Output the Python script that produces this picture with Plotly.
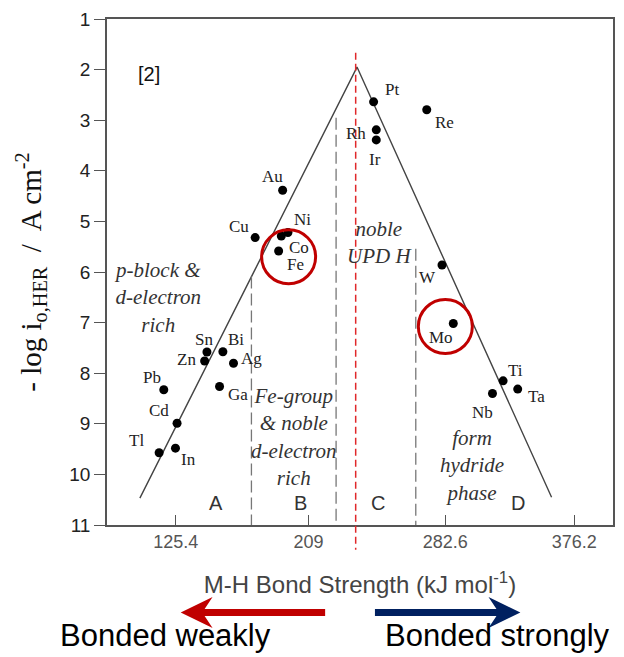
import plotly.graph_objects as go

# ---------------- data ----------------
elements = ["Au", "Cu", "Ni", "Co", "Fe", "Pt", "Re", "Rh", "Ir", "W", "Mo", "Ti",
            "Ta", "Nb", "Sn", "Zn", "Bi", "Ag", "Ga", "Pb", "Cd", "Tl", "In"]
# x position on the (scanned) M-H bond strength axis, in tick-spacing units
bond_pos = [0.805, 0.598, 0.845, 0.795, 0.775, 1.49, 1.89, 1.51, 1.51, 2.005, 2.09,
            2.465, 2.575, 2.385, 0.235, 0.2175, 0.355, 0.435, 0.33, -0.09, 0.01, -0.125, -0.002]
log_i0 = [4.385, 5.32, 5.22, 5.29, 5.584, 2.637, 2.794, 3.19, 3.39, 5.862, 7.018,
          8.151, 8.314, 8.401, 7.582, 7.758, 7.576, 7.803, 8.263, 8.328, 8.99, 9.572, 9.481]

x_tick_pos = [0, 1, 2.03, 3]
x_tick_text = ["125.4", "209", "282.6", "376.2"]
y_ticks = list(range(1, 12))

# volcano lines
volcano_x = [-0.27, 1.365, 2.83]
volcano_y = [10.47, 1.95, 10.45]

# region separators (dashed) : x and top y
sep_x = [0.57, 1.2075, 1.8075]
sep_top = [6.09, 2.95, 5.54]
red_line_x = 1.355

region_letters = ["A", "B", "C", "D"]
region_letter_x = [0.305, 0.943, 1.5225, 2.58]
region_letter_y = 10.57

region_notes = ["p-block &amp;<br>d-electron<br>rich",
                "Fe-group<br>&amp; noble<br>d-electron<br>rich",
                "noble<br>UPD H",
                "form<br>hydride<br>phase"]
region_note_x = [-0.135, 0.8925, 1.5375, 2.2275]
region_note_y = [6.50, 9.27, 5.41, 9.83]

highlight_x = [0.85, 2.03]
highlight_y = [5.70, 7.077]

# label offsets (pixels) relative to each point
label_offsets = {
    "Au": (-10, 14), "Cu": (-16, 11), "Ni": (15, 13), "Co": (18, -11), "Fe": (17, -14),
    "Pt": (18, 12), "Re": (18, -13), "Rh": (-20, -4), "Ir": (-1, -20), "W": (-15, -12),
    "Mo": (-12, -14), "Ti": (12, 10), "Ta": (19, -7), "Nb": (-10, -19), "Sn": (-3, 13),
    "Zn": (-18, 1), "Bi": (13, 12), "Ag": (18, 5), "Ga": (18, -8), "Pb": (-12, 12),
    "Cd": (-18, 13), "Tl": (-23, 12), "In": (13, -11),
}

# ---------------- figure ----------------
W, H = 624, 657
ML, MR, MT, MB = 107, 9, 16, 132
PW, PH = W - ML - MR, H - MT - MB


def px_x(p):
    return (p - ML) / PW


def px_y(p):
    return (H - MB - p) / PH


fig = go.Figure()

fig.add_trace(go.Scatter(x=volcano_x, y=volcano_y, mode="lines",
                         line=dict(color="#444444", width=1.4), hoverinfo="skip",
                         showlegend=False))

fig.add_trace(go.Scatter(x=bond_pos, y=log_i0, mode="markers",
                         marker=dict(color="black", size=9), text=elements,
                         showlegend=False))

serif = "Times New Roman, Liberation Serif, serif"
sans = "Arial, Liberation Sans, sans-serif"

for el, xv, yv in zip(elements, bond_pos, log_i0):
    dx, dy = label_offsets[el]
    fig.add_annotation(x=xv, y=yv, text=el, showarrow=False, xshift=dx, yshift=dy,
                       xanchor="center", yanchor="middle",
                       font=dict(family=serif, size=17, color="#222222"))

# separators
for sx, st in zip(sep_x, sep_top):
    fig.add_shape(type="line", x0=sx, x1=sx, y0=st, y1=11, xref="x", yref="y",
                  line=dict(color="#777777", width=1.3, dash="12px,5px"))

# red dashed line
fig.add_shape(type="line", x0=red_line_x, x1=red_line_x, y0=px_y(50), y1=px_y(550),
              xref="x", yref="paper", line=dict(color="#E0282A", width=1.5, dash="7px,4px"))

# region letters
for lt, lx in zip(region_letters, region_letter_x):
    fig.add_annotation(x=lx, y=region_letter_y, text=lt, showarrow=False,
                       xanchor="center", yanchor="middle",
                       font=dict(family=sans, size=20, color="#333333"))

# region notes
for nt, nx, ny in zip(region_notes, region_note_x, region_note_y):
    fig.add_annotation(x=nx, y=ny, text="<i>" + nt + "</i>", showarrow=False,
                       xanchor="center", yanchor="middle",
                       font=dict(family=serif, size=21, color="#333333"))

fig.add_annotation(x=-0.2025, y=2.094, text="[2]", showarrow=False,
                   xanchor="center", yanchor="middle",
                   font=dict(family=sans, size=20, color="#111111"))

# highlight circles
for hx, hy in zip(highlight_x, highlight_y):
    fig.add_shape(type="circle", xref="x", yref="y", xsizemode="pixel", ysizemode="pixel",
                  xanchor=hx, yanchor=hy, x0=-27, x1=27, y0=-27, y1=27,
                  line=dict(color="#C00000", width=3))

# arrows (decoration, paper coords)
def P(xp, yp):
    return f"{px_x(xp):.5f},{px_y(yp):.5f}"

red_path = ("M " + P(181, 613) + " L " + P(213, 597.5) + " L " + P(205, 609.5) +
            " L " + P(326, 609.5) + " L " + P(326, 616.5) + " L " + P(205, 616.5) +
            " L " + P(213, 628.5) + " Z")
blue_path = ("M " + P(522, 613) + " L " + P(490, 597.5) + " L " + P(498, 609.5) +
             " L " + P(376, 609.5) + " L " + P(376, 616.5) + " L " + P(498, 616.5) +
             " L " + P(490, 628.5) + " Z")
fig.add_shape(type="path", path=red_path, xref="paper", yref="paper",
              fillcolor="#C00000", line=dict(width=0))
fig.add_shape(type="path", path=blue_path, xref="paper", yref="paper",
              fillcolor="#002060", line=dict(width=0))

fig.add_annotation(x=px_x(166), y=px_y(636), xref="paper", yref="paper",
                   xanchor="center", yanchor="middle",
                   text="Bonded weakly", showarrow=False,
                   font=dict(family=sans, size=31, color="black"))
fig.add_annotation(x=px_x(499), y=px_y(636), xref="paper", yref="paper",
                   xanchor="center", yanchor="middle",
                   text="Bonded strongly", showarrow=False,
                   font=dict(family=sans, size=31, color="black"))

fig.update_layout(
    width=W, height=H,
    margin=dict(l=ML, r=MR, t=MT, b=MB, pad=0),
    paper_bgcolor="white", plot_bgcolor="white",
    showlegend=False,
    xaxis=dict(range=[-0.5175, 3.2925], tickvals=x_tick_pos, ticktext=x_tick_text,
               ticks="inside", ticklen=10, tickcolor="#555555", tickwidth=1.3,
               showgrid=False, zeroline=False, showline=True, linecolor="#555555",
               linewidth=1.5, mirror=True,
               tickfont=dict(family=sans, size=18, color="#555555"),
               title=dict(text="M-H Bond Strength (kJ mol<sup>-1</sup>)",
                          font=dict(family=sans, size=24, color="#444444"), standoff=25)),
    yaxis=dict(range=[11, 1], tickvals=y_ticks, ticks="outside", ticklen=11,
               tickcolor="#555555", tickwidth=1.3,
               showgrid=False, zeroline=False, showline=True, linecolor="#555555",
               linewidth=1.5, mirror=True,
               tickfont=dict(family=sans, size=19, color="#222222"),
               title=dict(text="- log i<sub>o,HER</sub>  /  A cm<sup>-2</sup>",
                          font=dict(family=serif, size=29, color="#111111"), standoff=19)),
)

fig.write_html("out.html")
